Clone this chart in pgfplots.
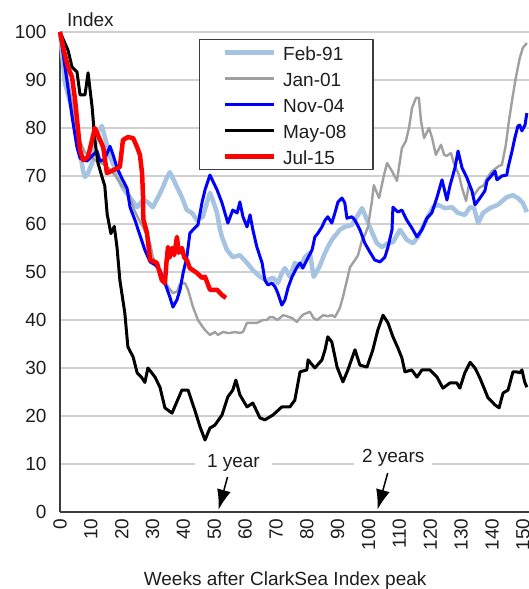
\documentclass[border=0pt]{standalone}
\usepackage{fontspec}
\setmainfont{Liberation Sans}
\usepackage{pgfplots}
\pgfplotsset{compat=1.18}
\usetikzlibrary{arrows.meta}
\definecolor{feb}{RGB}{166,196,226}
\definecolor{jan}{RGB}{160,160,160}
\definecolor{nov}{RGB}{0,0,255}
\definecolor{redl}{RGB}{255,0,0}
\definecolor{gridc}{RGB}{208,208,208}
\definecolor{axc}{RGB}{60,60,60}
\definecolor{txt}{RGB}{30,30,30}
\begin{document}
\begin{tikzpicture}[font=\fontsize{19bp}{22bp}\selectfont, text=txt]
\useasboundingbox (-60bp,-77bp) rectangle (469bp,512bp);
\begin{axis}[
  at={(0,0)}, anchor=south west,
  width=469bp, height=480bp, scale only axis,
  xmin=0, xmax=152, ymin=0, ymax=100,
  clip=false,
  /pgf/number format/assume math mode=true,
  axis x line*=bottom, axis y line*=left,
  axis line style={axc, line width=1.6bp, -},
  xtick={0,10,...,150}, ytick={0,10,...,100},
  major tick length=0pt,
  ymajorgrids, grid style={gridc, line width=1.3bp},
  xticklabel style={rotate=90, anchor=east},
  xticklabel shift=3bp, yticklabel shift=10bp,
  tick label style={font=\fontsize{19bp}{22bp}\selectfont, text=txt},
  every axis title/.style={at={(rel axis cs:0,1)}, anchor=base west, xshift=7bp, yshift=5bp, inner sep=0pt},
  title={Index},
  every axis x label/.style={at={(rel axis cs:0.48,0)}, anchor=base, yshift=-73bp, inner sep=0pt},
  xlabel={Weeks after ClarkSea Index peak},
  legend image code/.code={\draw[#1] (0bp,0bp) -- (49bp,0bp);},
  legend style={at={(rel axis cs:0.2964,0.9854)}, anchor=north west,
    draw=axc, line width=1.3bp, fill=white,
    inner xsep=23bp, inner ysep=4.5bp, row sep=9bp, column sep=3.5bp,
    nodes={inner ysep=0pt, inner xsep=3.5bp, text height=16bp, text depth=1bp},
    font=\fontsize{19bp}{22bp}\selectfont},
  legend cell align=left,
  line join=round,
]
% Feb-91
\addplot[feb, line width=4.5bp] coordinates {
(0,100) (1.6,89.4) (3.9,83.8) (5.5,78) (6.5,75) (7.5,71) (8.1,69.8) (9,70.5) (10.4,72.7) (12,79) (13.6,80.4) (15.2,76.5) (16.2,74) (17.2,72.5) (18.5,70.2) (20.4,67.5) (22.7,65.5) (25,63.5) (26.9,65) (28.5,64.5) (30.1,63.5) (31.8,65.6) (33.4,67.7) (34.5,69.5) (35.6,70.8) (36.6,69.5) (37.9,67.7) (39.5,65.6) (41.1,62.9) (42.8,62.3) (44.4,60.8) (46.3,61.5) (47.6,64.4) (48.6,66.5) (49.5,65) (50.9,62.3) (51.8,59) (52.5,57.3) (54.1,54.6) (56,53.1) (58.3,53.5) (60.6,51.9) (62.5,50.4) (64.8,49) (67,48.3) (69,48.8) (70.6,47.7) (71.9,49.8) (72.9,50.8) (74.5,49) (76.1,51.9) (77.8,51) (79.4,53.1) (81,54) (82.2,49) (84,51) (85.9,54) (86.8,55.2) (88.1,56.7) (90.7,58.8) (92.3,59.4) (94.6,59.8) (96.6,61.9) (97.9,63.3) (99.1,61.5) (101.1,58.3) (102.7,56) (104.3,55.2) (106.3,56) (107.9,56.2) (110.2,58.8) (112.4,56.7) (114.4,56) (116,57.3) (117.6,59.4) (119.2,61.5) (120.9,63.5) (122.5,64) (124.8,63.3) (127,63.5) (129,62.3) (131.2,61.9) (132.9,63.5) (134.2,63.3) (135.5,60.2) (137.1,62.3) (139.3,63.3) (141.9,64) (144.8,65.6) (146.8,66) (148.4,65.4) (150,64.4) (151.3,62.5)
};
\addlegendentry{Feb-91}
% Jan-01
\addplot[jan, line width=2.4bp] coordinates {
(0,100) (2,92) (4,85) (6,78) (8,75) (10,74) (12,73) (14,72.5) (16,71.5) (18,70) (20,68) (22,67) (24,63) (25.5,61) (26.9,59.4) (29.2,56) (30.1,53.1) (31.8,51) (33.4,49) (35,46.9) (36.6,45.6) (38,46) (38.9,47.5) (40.5,47.7) (41.5,46.3) (43.1,42.7) (44.7,40) (46.3,38.5) (47,37.9) (48.6,36.9) (50.2,37.5) (51.2,36.9) (52.8,37.5) (54.4,37.3) (55.1,37.3) (56.7,37.5) (58.3,37.3) (59.3,37.5) (60.6,39.4) (62.5,39.4) (63.8,39.4) (65.8,40) (67,40) (68,40.6) (69,40.6) (70.5,40) (72.3,41) (73.5,40.8) (75.2,40.4) (76.8,39.6) (78,40.6) (79,41.2) (81,41.7) (82.2,40.4) (83.3,40) (85.3,41) (86.8,40.8) (88.1,41) (89.1,40.6) (90.7,42.5) (91.7,44.8) (93,48.3) (94,51) (95.6,52.5) (96.6,53.5) (97.9,56.7) (98.8,57.7) (99.8,59.4) (101.1,64.8) (101.7,68.1) (103.4,65.4) (105,70.2) (106,72.7) (107.6,71) (109.2,69) (110.8,75.8) (112.1,77.3) (113.1,80) (114.1,84.2) (115.4,86.3) (116.3,86.3) (117,81.5) (118,77.9) (119.6,80) (120.6,77.9) (121.8,74.4) (123.5,76.5) (124.5,74.4) (125.4,74.2) (126.7,74.8) (127.5,73) (128.3,71.7) (129.3,70.2) (130.3,67.5) (131.6,64.8) (132.5,68.1) (133.5,67) (134.2,66) (135.8,67.5) (137.4,68.1) (138.4,69.6) (140,71) (142.3,72.1) (143.2,72.3) (144.5,76.5) (145.5,81.5) (146.8,86.9) (147.7,90.4) (149,94.6) (150,96.7) (151.3,97.7)
};
\addlegendentry{Jan-01}
% Nov-04
\addplot[nov, line width=3bp] coordinates {
(0,100) (2,91) (4,82) (5.5,76) (6.5,73.7) (8.7,73.1) (10.4,74.2) (12,75.2) (13,73.1) (14.5,73.5) (16.2,76.2) (17.2,74.4) (18.5,71.7) (20,69.6) (21.7,67.5) (22.7,63.5) (24.3,60.8) (25.9,57.7) (27.5,54.6) (29.2,52.1) (30.8,51.5) (32.4,50.4) (34,47.7) (35.6,44.8) (36.6,42.7) (37.9,44.2) (38.9,46.3) (39.9,49.8) (41.1,53.1) (42.1,58.1) (43.7,59.2) (44.7,59.8) (46,64.4) (47,67.1) (48.6,70.2) (50.9,67.1) (52.5,64.4) (54.4,60.2) (56,62.9) (57.4,62.3) (58.3,64.6) (59.3,61.5) (60.6,59.4) (61.6,61.9) (62.5,58.8) (63.8,55.2) (65.5,51.9) (66.4,48.3) (67.4,47.3) (68.7,47.7) (69.7,46.9) (70.6,45.6) (71.9,43.1) (72.9,44.2) (73.9,46.7) (75.2,49) (76.8,51) (77.8,51.9) (78.7,50.8) (80,52.5) (81.7,54.6) (82.6,57.3) (83.6,58.1) (84.9,59.4) (85.9,60.8) (86.8,61.5) (88.1,60.2) (89.1,62.3) (90.1,64.6) (91.4,65.4) (92.3,64.4) (93,61.2) (94.6,61.5) (95.6,60.8) (97.2,58.8) (98.8,56) (100.4,54.2) (102,52.5) (103.7,52.1) (105.3,53.1) (106.3,55.2) (107.6,58.8) (107.9,63.5) (109.5,62.5) (110.8,62.9) (112.4,60.8) (114,59.2) (115.7,57.3) (117.3,58.8) (118.9,61.2) (120.5,62.3) (122.2,65.6) (123.8,69.2) (125.4,65) (126.4,68) (128,71.7) (129,75.2) (130.3,71.7) (131.9,69.6) (133.5,66.9) (134.5,64) (136.1,65.4) (137.7,66.9) (138.4,69) (140,70.2) (141,71) (141.6,69.2) (143.2,70) (144.8,70.2) (145.2,71.7) (146.5,75.2) (147.4,77.9) (148.4,80.4) (149,80.6) (149.7,79.4) (150.7,80.6) (151.3,83.1)
};
\addlegendentry{Nov-04}
% May-08
\addplot[black, line width=3bp] coordinates {
(0,100) (2.6,96.2) (3.9,92.7) (5.5,91.7) (6.5,86.9) (8.1,86.9) (9.1,91.5) (10.4,84.4) (11.3,77.5) (12.3,72.7) (13.9,69.2) (14.5,68) (15.3,62) (16.5,58) (17.6,59.5) (18.5,55) (19.4,48.3) (21,41.5) (22,34.4) (23.7,32.3) (25,29) (26.5,28) (27.5,27) (28.5,30) (30.8,28.1) (32.4,26) (34,21.7) (36.3,20.6) (39.5,25.4) (41.5,25.4) (43.7,21.2) (45.4,17.7) (47,15) (48.6,17.5) (50.2,18.1) (52.5,20.2) (54.4,24) (56,25.4) (57,27.5) (58.3,24.4) (60.6,21.9) (62.5,22.7) (64.8,19.6) (66.4,19.2) (69,20.2) (71.9,21.9) (74.5,21.9) (76.1,23.3) (77.8,29.2) (80,29.6) (80.4,31.7) (82.6,30) (84.9,31.7) (85.9,33.8) (86.8,36.5) (88.1,35.4) (89.8,30.2) (91.7,27.1) (93.3,29.6) (95.6,33.8) (97.2,30.6) (99.5,30.2) (101.4,33.8) (103,37.9) (104.7,41) (106.3,39.4) (107.9,36.5) (109.5,34.2) (110.8,32.1) (111.8,29.2) (114,29.6) (115.7,28.1) (117.3,29.6) (119.9,29.6) (122.2,28.1) (124.1,25.8) (126.4,26.9) (128.6,26.9) (129.6,25.8) (131.2,29) (132.9,31.2) (134.5,30) (136.1,27.9) (137.7,25.4) (138.7,23.8) (141,22.3) (142.3,21.7) (143.6,24.8) (145.2,25.4) (146.8,29.2) (148,29.2) (149,29) (149.7,29.6) (150.6,27.1) (151.3,26)
};
\addlegendentry{May-08}
% Jul-15
\addplot[redl, line width=4.5bp] coordinates {
(0,100) (1.3,96) (2.6,92.7) (3.9,90.6) (4.9,85.8) (6.5,75.4) (7.5,73.3) (9.1,74) (11.3,80) (13,77.5) (14,76) (15.2,70.6) (17.2,71.2) (19.4,71.9) (20.4,77.5) (22,78.1) (23.7,77.9) (25,76) (25.9,74.4) (26.6,70.6) (26.9,66) (27,61) (28.2,58.1) (29.2,52.5) (31.4,51.9) (33,48.3) (34,47.7) (34.5,52) (35,55.2) (35.5,53) (36.3,55) (37,53.5) (37.9,57.3) (38.5,54) (39.5,55) (40.3,53) (41.1,52.5) (42.1,50.8) (44.4,49.8) (46,48.8) (47,49) (48.6,46.3) (50.9,46.3) (52.5,45.2) (53.8,44.6)
};
\addlegendentry{Jul-15}
\node[fill=white, inner xsep=12bp, inner ysep=2bp] at (axis cs:56.2,10.2) {1 year};
\node[fill=white, inner xsep=8bp, inner ysep=2bp] at (axis cs:108,11.25) {2 years};
\draw[line width=1.5bp, black, arrows={-Latex[length=20bp,width=14bp]}] (axis cs:54.3,7.3) -- (axis cs:51.4,0.5);
\draw[line width=1.5bp, black, arrows={-Latex[length=20bp,width=14bp]}] (axis cs:106.2,8.1) -- (axis cs:102.9,0.5);
\end{axis}
\end{tikzpicture}
\end{document}
